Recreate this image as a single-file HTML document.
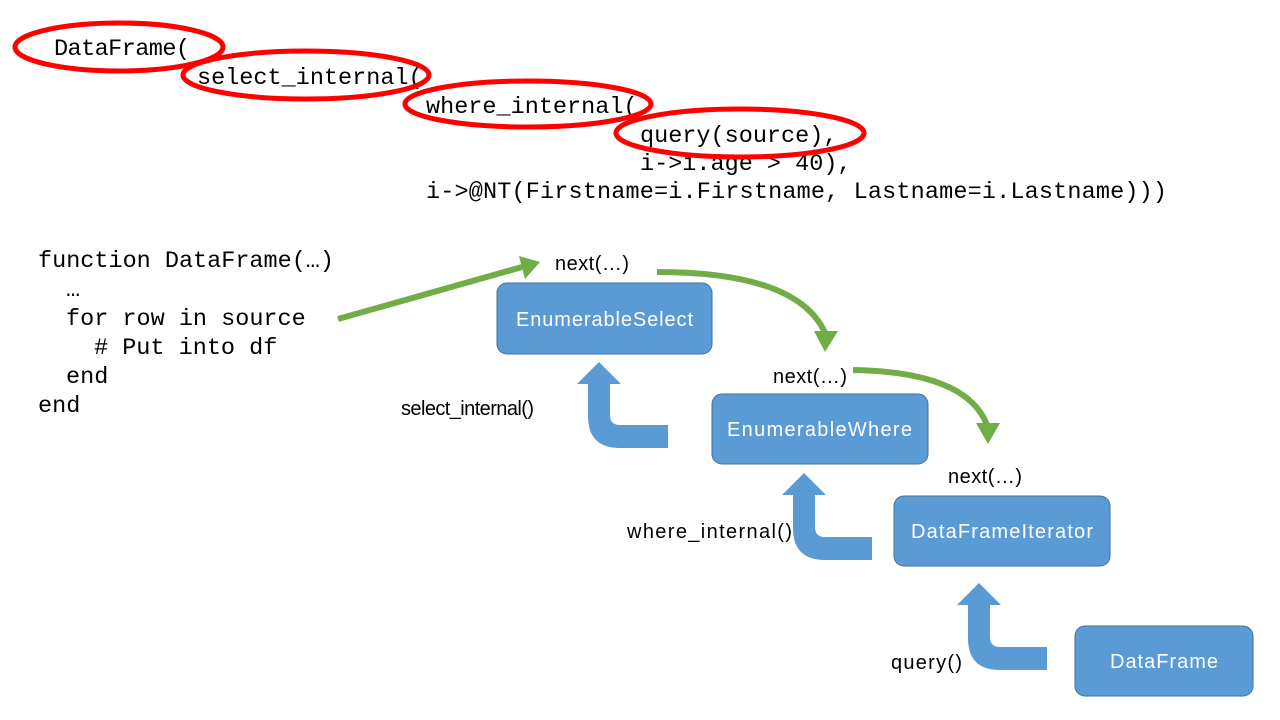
<!DOCTYPE html>
<html><head><meta charset="utf-8"><style>
html,body{margin:0;padding:0;background:#fff;}
svg{display:block;}
.m{font-family:"Liberation Mono",monospace;font-size:23.5px;fill:#000;}
.s{font-family:"Liberation Sans",sans-serif;font-size:20px;fill:#000;}
.w{font-family:"Liberation Sans",sans-serif;font-size:20px;fill:#fff;}
</style></head><body>
<svg width="1280" height="720" viewBox="0 0 1280 720" xmlns="http://www.w3.org/2000/svg">
<text class="m" x="54" y="55" textLength="136">DataFrame(</text>
<text class="m" x="197" y="84">select_internal(</text>
<text class="m" x="426" y="113">where_internal(</text>
<text class="m" x="640" y="142">query(source),</text>
<text class="m" x="640" y="170">i->i.age > 40),</text>
<text class="m" x="426" y="198" textLength="741">i->@NT(Firstname=i.Firstname, Lastname=i.Lastname)))</text>
<g fill="none" stroke="#f00" stroke-width="5">
<ellipse cx="119" cy="47" rx="104" ry="24"/>
<ellipse cx="306" cy="75" rx="123" ry="24"/>
<ellipse cx="528" cy="104" rx="123" ry="23"/>
<ellipse cx="740" cy="133" rx="124" ry="24"/>
</g>
<text class="m" x="38" y="267" textLength="296">function DataFrame(…)</text>
<text class="m" x="66" y="296">…</text>
<text class="m" x="66" y="325">for row in source</text>
<text class="m" x="94" y="354"># Put into df</text>
<text class="m" x="66" y="383">end</text>
<text class="m" x="38" y="412">end</text>
<g fill="#5b9bd5" stroke="#41719c" stroke-width="1">
<rect x="497" y="283" width="215" height="71" rx="10"/>
<rect x="712" y="394" width="216" height="70" rx="10"/>
<rect x="894" y="496" width="216" height="70" rx="10"/>
<rect x="1075" y="626" width="178" height="70" rx="10"/>
</g>
<text class="w" x="516" y="326" textLength="177">EnumerableSelect</text>
<text class="w" x="727" y="436" textLength="185">EnumerableWhere</text>
<text class="w" x="911" y="538" textLength="182">DataFrameIterator</text>
<text class="w" x="1110" y="668" textLength="108">DataFrame</text>
<g fill="#5b9bd5">
<path d="M599,362 L621,384 L610,384 L610,415 Q610,425 620,425 L668,425 L668,448 L620,448 Q588,448 588,416 L588,384 L577,384 Z"/>
<path d="M804,473 L826,495 L815,495 L815,527 Q815,537 825,537 L872,537 L872,560 L825,560 Q793,560 793,528 L793,495 L782,495 Z"/>
<path d="M979,583 L1001,605 L990,605 L990,637 Q990,647 1000,647 L1047,647 L1047,670 L1000,670 Q968,670 968,638 L968,605 L957,605 Z"/>
</g>
<g fill="none" stroke="#70ad47" stroke-width="6">
<line x1="338" y1="319" x2="522" y2="267"/>
<path d="M657,272 Q800,272 826,335"/>
<path d="M853,370 Q970,372 988,428"/>
</g>
<g fill="#70ad47">
<path d="M540,262 L519,256 L525,279 Z"/>
<path d="M825,352 L814,331 L838,331 Z"/>
<path d="M988,444 L976,423 L1000,423 Z"/>
</g>
<text class="s" x="555" y="270" textLength="74">next(…)</text>
<text class="s" x="773" y="383" textLength="74">next(…)</text>
<text class="s" x="948" y="483" textLength="74">next(…)</text>
<text class="s" x="401" y="415" textLength="133">select_internal()</text>
<text class="s" x="627" y="538" textLength="165">where_internal()</text>
<text class="s" x="891" y="669" textLength="71">query()</text>
</svg>
</body></html>
